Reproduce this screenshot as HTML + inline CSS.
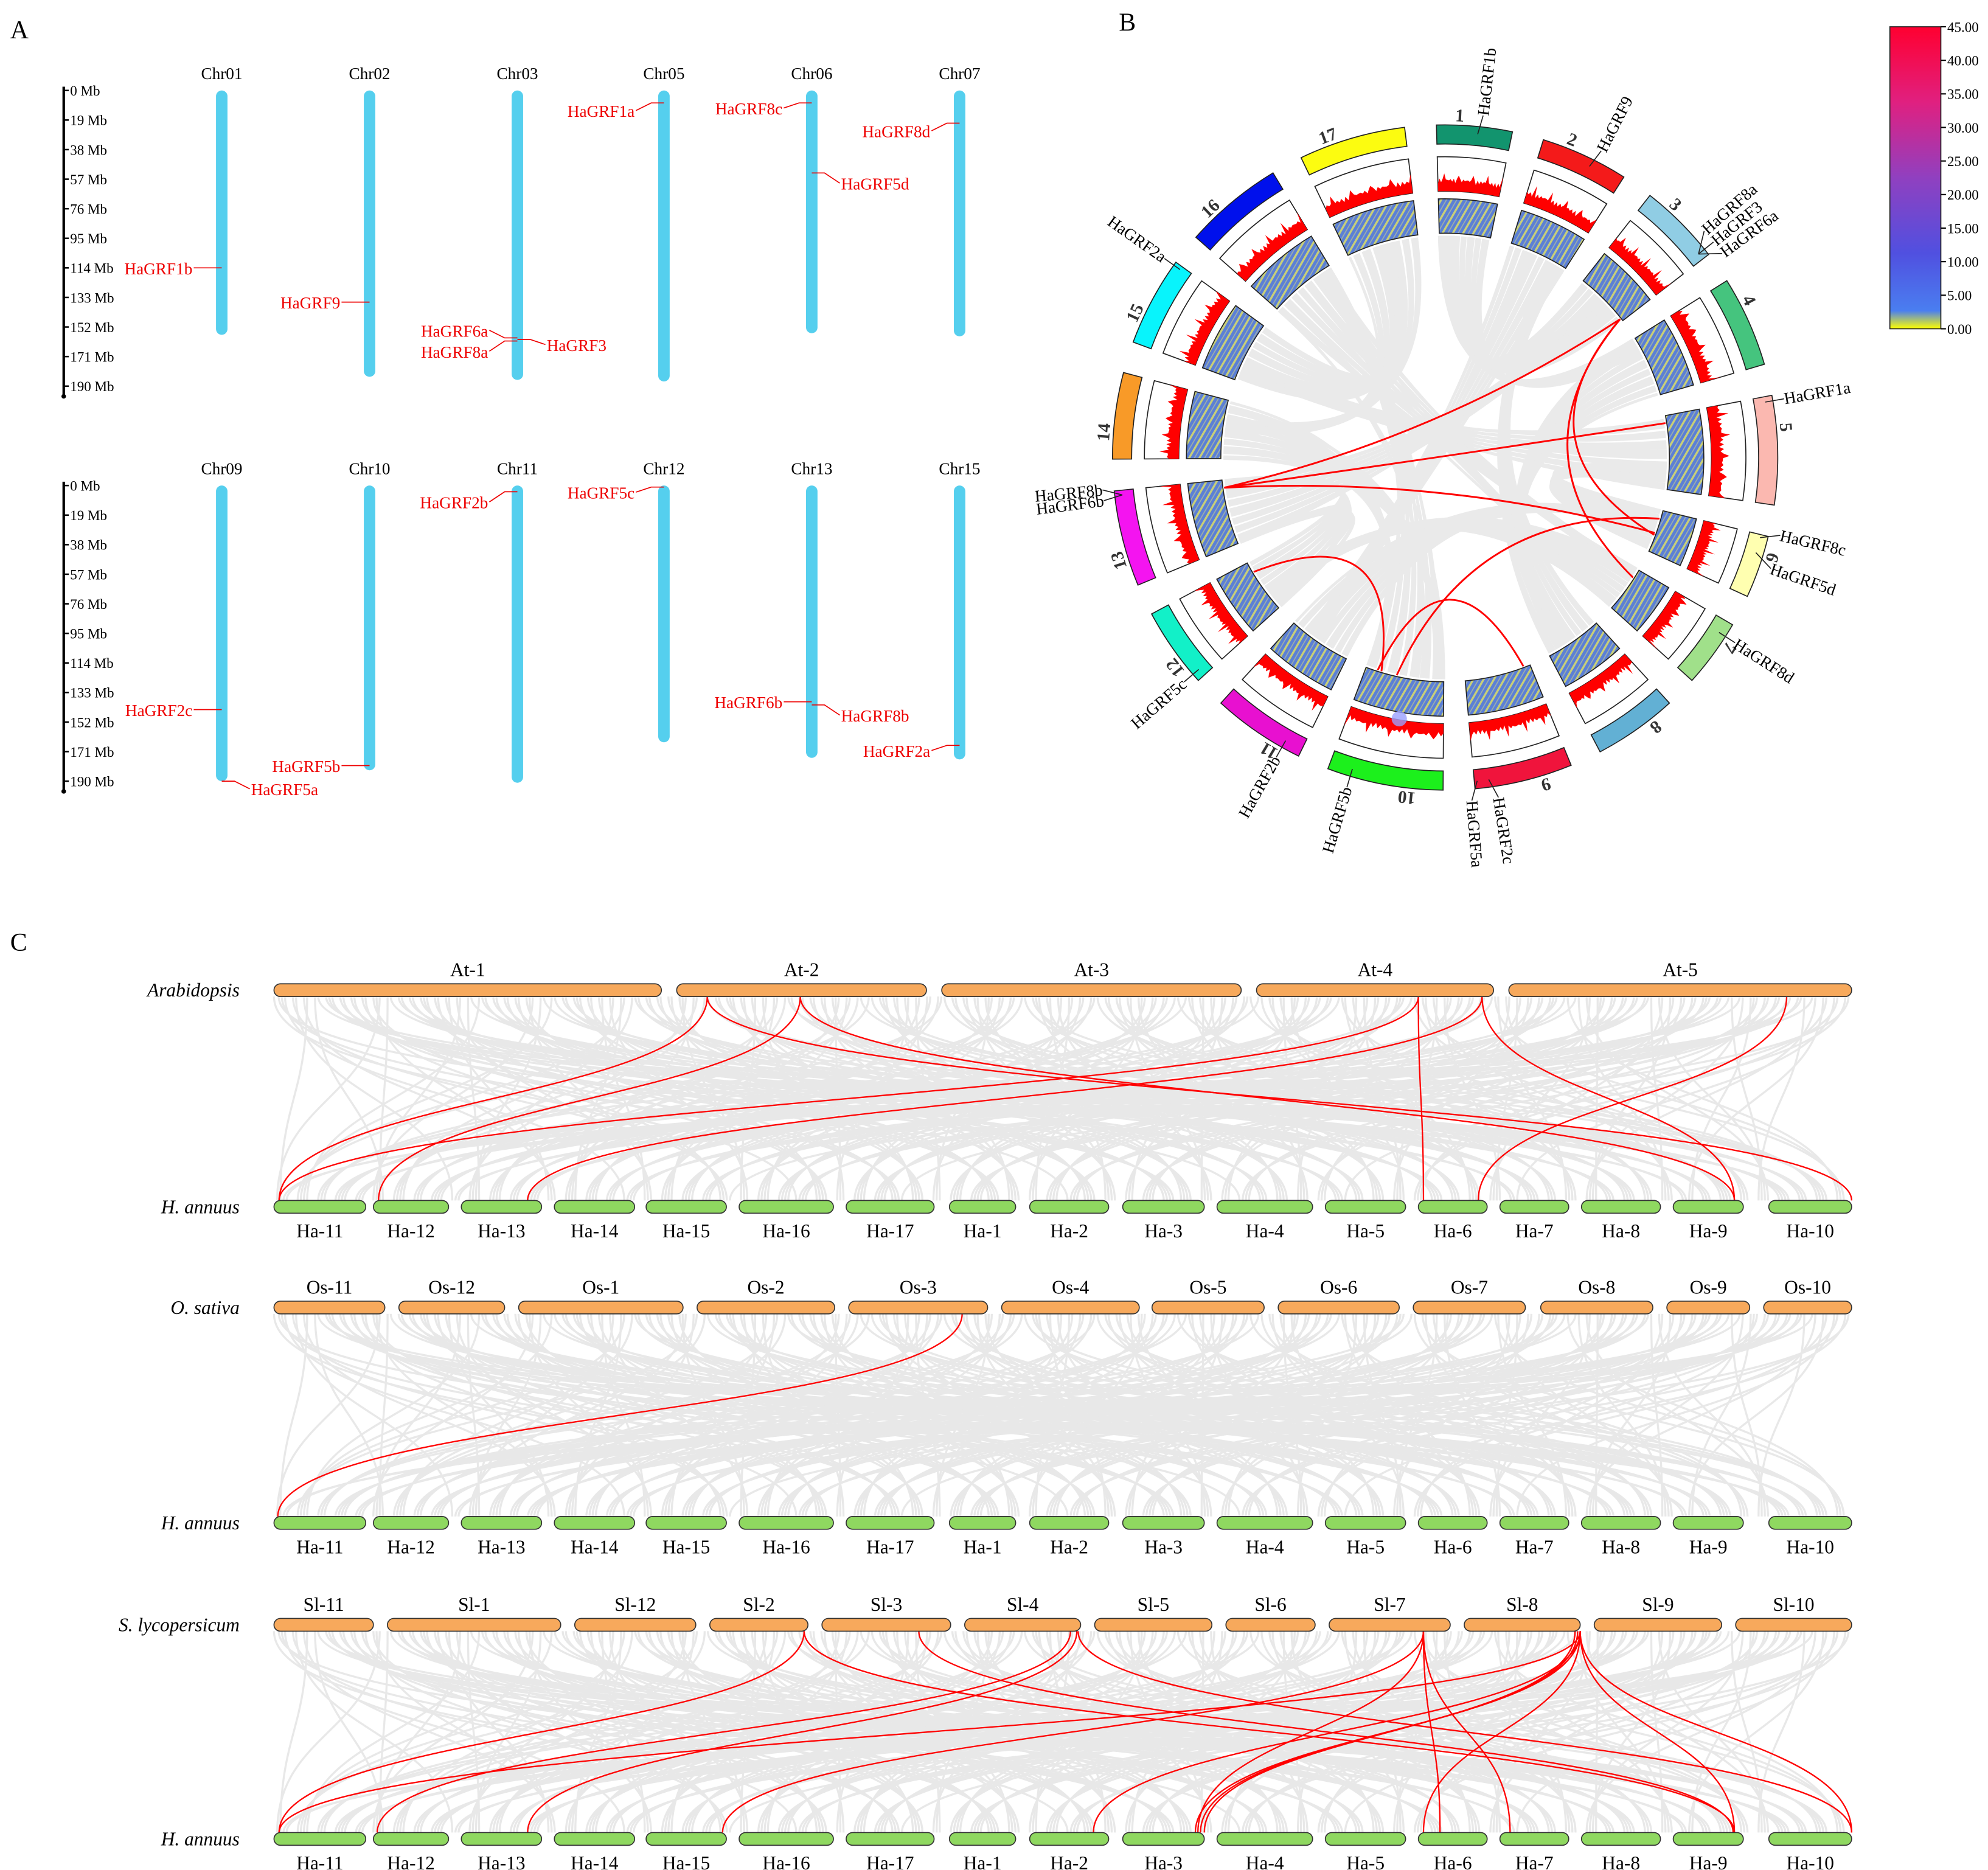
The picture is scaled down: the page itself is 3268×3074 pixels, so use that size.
<!DOCTYPE html>
<html><head><meta charset="utf-8"><style>
html,body{margin:0;padding:0;background:#fff}
svg{display:block}
text{font-family:"Liberation Serif",serif}
</style></head><body>
<svg id="fig" xmlns="http://www.w3.org/2000/svg" width="3268" height="3074" viewBox="0 0 1560 1467.4">
<defs>
<linearGradient id="cbar" x1="0" y1="1" x2="0" y2="0">
<stop offset="0" stop-color="#ffff00"/><stop offset="0.06" stop-color="#4a7ef0"/><stop offset="0.25" stop-color="#5050e0"/><stop offset="0.5" stop-color="#9040c0"/><stop offset="0.75" stop-color="#e02080"/><stop offset="1" stop-color="#ff0030"/>
</linearGradient>
<pattern id="heat" patternUnits="userSpaceOnUse" width="7" height="7" patternTransform="rotate(30)">
<rect width="7" height="7" fill="#5b7fd6"/><rect x="0" width="1.6" height="7" fill="#c8cf78"/><rect x="4" width="0.8" height="7" fill="#9fb0a8"/>
</pattern>
</defs>
<g id="A"></g>
<g id="B"></g>
<g id="C"></g>
</svg>
<script>
const NS="http://www.w3.org/2000/svg";
function mk(parent,tag,attrs,txt){const e=document.createElementNS(NS,tag);for(const k in attrs)e.setAttribute(k,attrs[k]);if(txt!==undefined)e.textContent=txt;parent.appendChild(e);return e;}

/* ---------- PANEL A data ---------- */
const aTicks=[0,19,38,57,76,95,114,133,152,171,190];
const aTopChrs=["Chr01","Chr02","Chr03","Chr05","Chr06","Chr07"];
const aTopLens=[157,184,186,187,156,158];
const aBotChrs=["Chr09","Chr10","Chr11","Chr12","Chr13","Chr15"];
const aBotLens=[190,183,191,165,175,176];
const aTopGenes=[["HaGRF1b",0,114,"L",0],["HaGRF9",1,136,"L",0],["HaGRF6a",2,159,"L",-6],["HaGRF8a",2,161,"L",8],["HaGRF3",2,160,"R",4],["HaGRF1a",3,8,"L",6],["HaGRF8c",4,8,"L",4],["HaGRF5d",4,53,"R",8],["HaGRF8d",5,21,"L",6]];
const aBotGenes=[["HaGRF2c",0,144,"L",0],["HaGRF5a",0,190,"R",6],["HaGRF5b",1,180,"L",0],["HaGRF2b",2,4,"L",8],["HaGRF5c",3,1,"L",4],["HaGRF6b",4,139,"L",0],["HaGRF8b",4,141,"R",8],["HaGRF2a",5,167,"L",4]];

const A=document.getElementById('A');
const chrX=[174,290,406,521,637,753];
const mbPx=23.2/19;
function drawAGroup(y0,chrs,lens,genes,tag){
  const ax=mk(A,'g',{});
  
  
  mk(ax,'line',{x1:50,y1:y0-3,x2:50,y2:y0+190*mbPx+8,stroke:'#000','stroke-width':2});
  mk(ax,'circle',{cx:50,cy:y0+190*mbPx+8,r:1.8,fill:'#000'});
  aTicks.forEach(t=>{const y=y0+t*mbPx;mk(ax,'line',{x1:50,y1:y,x2:54,y2:y,stroke:'#000','stroke-width':1.2});
    mk(ax,'text',{x:55,y:y+4,'font-size':11},t+' Mb');});
  chrs.forEach((c,i)=>{
    const g=mk(A,'g',{});
    
    
    mk(g,'text',{x:chrX[i],y:y0-9,'font-size':13,'text-anchor':'middle'},c);
    mk(g,'rect',{x:chrX[i]-4.5,y:y0,width:9,height:lens[i]*mbPx,rx:4.5,fill:'#55cfee'});
  });
  genes.forEach(([n,ci,mb,side,dy])=>{
    const x=chrX[ci],y=y0+mb*mbPx;
    const g=mk(A,'g',{});
    
    
    if(side==='L'){mk(g,'polyline',{points:`${x},${y} ${x-10},${y} ${x-22},${y+dy}`,fill:'none',stroke:'#e00','stroke-width':0.8});
      mk(g,'text',{x:x-23,y:y+dy+5,'font-size':13,fill:'#e00','text-anchor':'end'},n);}
    else{mk(g,'polyline',{points:`${x},${y} ${x+10},${y} ${x+22},${y+dy}`,fill:'none',stroke:'#e00','stroke-width':0.8});
      mk(g,'text',{x:x+23,y:y+dy+5,'font-size':13,fill:'#e00'},n);}
  });
}
mk(A,'text',{x:8,y:30,'font-size':20},'A');
drawAGroup(71,aTopChrs,aTopLens,aTopGenes,'top');
drawAGroup(381,aBotChrs,aBotLens,aBotGenes,'bottom');

/* ---------- PANEL B data ---------- */
const bChrLens=[154,179,168,185,222,128,139,171,200,237,190,164,196,176,183,203,218];
const bColors=["#12946e","#f41a1a","#90cde4","#45c47e","#fbb8b0","#ffffb0","#a0e08a","#62b0d4","#f0143c","#1cf01c","#e810d0","#12f0c8","#f414f0","#f89a28","#08f4fc","#0010ec","#fcfc10"];
const bLinks=[[13,0.88,3,0.95],[13,0.88,5,0.1],[13,0.88,6,0.55],[3,0.95,6,0.6],[3,0.95,7,0.2],[12,0.8,10,0.8],[10,0.85,9,0.1],[10,0.6,6,0.2]];
const bGenes=[["HaGRF1b",1,0.55,1],["HaGRF9",2,0.6,1],["HaGRF8a",3,0.92,-4],["HaGRF3",3,0.92,0],["HaGRF6a",3,0.92,4],["HaGRF1a",5,0.05,0],["HaGRF8c",6,0.05,-2],["HaGRF5d",6,0.3,3],["HaGRF8d",7,0.2,0],["HaGRF5a",9,0.97,2],["HaGRF2c",9,0.85,-2],["HaGRF5b",10,0.8,0],["HaGRF2b",11,0.2,0],["HaGRF5c",12,0.1,0],["HaGRF8b",13,0.95,2],["HaGRF6b",13,0.95,-1],["HaGRF2a",15,0.96,0]];
const cbTicks=["45.00","40.00","35.00","30.00","25.00","20.00","15.00","10.00","5.00","0.00"];

const B=document.getElementById('B');
const cx=1134,cy=359;
const degPerMb=266.5/bChrLens.reduce((a,b)=>a+b,0),gap=5.5,start0=-1.5;
const starts=[];let acc=start0;bChrLens.forEach(l=>{starts.push(acc);acc+=l*degPerMb+gap;});
function P(a,r){const t=a*Math.PI/180;return [cx+r*Math.sin(t),cy-r*Math.cos(t)];}
function arc(a1,a2,r1,r2){const [x1,y1]=P(a1,r2),[x2,y2]=P(a2,r2),[x3,y3]=P(a2,r1),[x4,y4]=P(a1,r1);const lg=(a2-a1)>180?1:0;
 return `M${x1},${y1}A${r2},${r2} 0 ${lg} 1 ${x2},${y2}L${x3},${y3}A${r1},${r1} 0 ${lg} 0 ${x4},${y4}Z`;}
function ang(ci,f){return starts[ci]+f*bChrLens[ci]*degPerMb;}
mk(B,'text',{x:878,y:24,'font-size':20},'B');
const gl=mk(B,'g',{opacity:0.55});


for(let i=0;i<420;i++){
  const c1=i%17,c2=(i*7+3)%17; if(c1===c2)continue;
  const f1=((i*37)%100)/100,f2=((i*53)%100)/100;
  const a1=ang(c1,f1),a2=ang(c2,f2);
  const [x1,y1]=P(a1,174),[x2,y2]=P(a2,174);
  mk(gl,'path',{d:`M${x1},${y1}Q${cx},${cy} ${x2},${y2}`,fill:'none',stroke:'#d9d9d9','stroke-width':2.2});
}
bChrLens.forEach((l,i)=>{
  const a1=starts[i],a2=a1+l*degPerMb;
  const g=mk(B,'g',{});
  
  
  mk(g,'path',{d:arc(a1,a2,246,261),fill:bColors[i],stroke:'#222','stroke-width':0.8});
  mk(g,'path',{d:arc(a1,a2,209,236),fill:'#fff',stroke:'#222','stroke-width':0.8});
  let pts=[];const n=40;
  for(let k=0;k<=n;k++){const a=a1+(a2-a1)*k/n;const h=6+4*Math.abs(Math.sin(k*1.7+i))+(k%9===4?6:0);pts.push(P(a,209+h));}
  const [bx,by]=P(a2,209),[sx,sy]=P(a1,209);
  mk(g,'path',{d:`M${sx},${sy}L`+pts.map(p=>p.join(',')).join(' L')+` L${bx},${by}A209,209 0 0 0 ${sx},${sy}Z`,fill:'#f00'});
  mk(g,'path',{d:arc(a1,a2,176,203),fill:'url(#heat)',stroke:'#222','stroke-width':0.8});
  const la=a1+0.3*(a2-a1);
  const [tx,ty]=P(la,264);
  mk(g,'text',{x:tx,y:ty,'font-size':14,'font-weight':'bold','text-anchor':'middle',transform:`rotate(${la} ${tx} ${ty})`,fill:'#333'},i+1);
});
bLinks.forEach(([c1,f1,c2,f2],k)=>{
  const [x1,y1]=P(ang(c1-1,f1),175),[x2,y2]=P(ang(c2-1,f2),175);
  const p=mk(B,'path',{d:`M${x1},${y1}Q${cx+( (x1+x2)/2-cx)*0.35},${cy+((y1+y2)/2-cy)*0.35} ${x2},${y2}`,fill:'none',stroke:'#f00','stroke-width':1.4});
  
  
});
mk(B,'circle',{cx:1098,cy:564,r:6,fill:'#9aa0ff',opacity:0.8});
bGenes.forEach(([n,ci,f,off])=>{
  const a=ang(ci-1,f);const [x1,y1]=P(a,255),[x2,y2]=P(a+off*0.6,270);
  const g=mk(B,'g',{});
  
  
  mk(g,'line',{x1,y1,x2,y2,stroke:'#222','stroke-width':0.8});
  const aa=a+off*0.6;let rot=aa-90;let anchor='start';
  if(aa>180){rot=aa+90;anchor='end';}
  mk(g,'text',{x:x2,y:y2,'font-size':13,'text-anchor':anchor,'dominant-baseline':'central',transform:`rotate(${rot} ${x2} ${y2})`},n);
});
const cb=mk(B,'g',{});


mk(cb,'rect',{x:1483,y:21,width:40,height:237,fill:'url(#cbar)',stroke:'#222','stroke-width':0.8});
cbTicks.forEach((t,i)=>{const y=21+i*237/9;mk(cb,'line',{x1:1523,y1:y,x2:1527,y2:y,stroke:'#000'});mk(cb,'text',{x:1528,y:y+4,'font-size':11},t);});

/* ---------- PANEL C data ---------- */
const haNames=["Ha-11","Ha-12","Ha-13","Ha-14","Ha-15","Ha-16","Ha-17","Ha-1","Ha-2","Ha-3","Ha-4","Ha-5","Ha-6","Ha-7","Ha-8","Ha-9","Ha-10"];
const haX=[[215,287],[293,352],[362,425],[435,498],[507,570],[580,654],[664,733],[745,797],[808,870],[881,945],[955,1030],[1040,1103],[1113,1167],[1177,1231],[1241,1303],[1313,1368],[1388,1453]];
const atNames=["At-1","At-2","At-3","At-4","At-5"];
const atX=[[215,519],[531,727],[739,974],[986,1172],[1184,1453]];
const osNames=["Os-11","Os-12","Os-1","Os-2","Os-3","Os-4","Os-5","Os-6","Os-7","Os-8","Os-9","Os-10"];
const osX=[[215,302],[313,396],[407,536],[547,655],[666,775],[786,894],[904,992],[1003,1098],[1109,1197],[1209,1297],[1308,1373],[1384,1453]];
const slNames=["Sl-11","Sl-1","Sl-12","Sl-2","Sl-3","Sl-4","Sl-5","Sl-6","Sl-7","Sl-8","Sl-9","Sl-10"];
const slX=[[215,293],[304,440],[451,546],[557,634],[645,746],[757,848],[859,951],[962,1032],[1043,1138],[1149,1240],[1251,1351],[1362,1453]];
const atLinks=[[555,219],[628,297],[555,1453],[628,1361],[1113,219],[1113,1117],[1163,414],[1163,1361],[1402,1160]];
const osLinks=[[755,218]];
const slLinks=[[631,219],[631,1361],[721,1360],[840,296],[845,414],[846,1453],[1117,567],[1117,1130],[1117,1185],[1117,940],[1240,219],[1240,858],[1240,938],[1238,942],[1236,945],[1240,1117],[1240,1361],[1240,1453]];

const C=document.getElementById('C');
mk(C,'text',{x:8,y:746,'font-size':20},'C');
function drawBlock(topY,botY,topNames,topX,links,species,tag){
  const gg=mk(C,'g',{opacity:0.9});
  
  
  const tw=1453-215;
  for(let i=0;i<300;i++){
    const x1=215+((i*97)%1000)/1000*tw,x2=215+((i*61+331)%1000)/1000*tw;
    const m=(topY+botY)/2;
    mk(gg,'path',{d:`M${x1},${topY+5}C${x1},${m} ${x2},${m} ${x2},${botY-5}`,fill:'none',stroke:'#e6e6e6','stroke-width':1.6});
  }
  const rg=mk(C,'g',{});
  
  
  links.forEach(([x1,x2])=>{const m=(topY+botY)/2;
    mk(rg,'path',{d:`M${x1},${topY+5}C${x1},${m} ${x2},${m} ${x2},${botY-5}`,fill:'none',stroke:'#f00','stroke-width':1.1});});
  topNames.forEach((n,i)=>{const [a,b]=topX[i];
    const g=mk(C,'g',{});
    
    
    mk(g,'rect',{x:a,y:topY-5,width:b-a,height:10,rx:5,fill:'#f7a95c',stroke:'#333','stroke-width':0.8});
    mk(g,'text',{x:(a+b)/2,y:topY-11,'font-size':15,'text-anchor':'middle'},n);});
  haNames.forEach((n,i)=>{const [a,b]=haX[i];
    const g=mk(C,'g',{});
    
    
    mk(g,'rect',{x:a,y:botY-5,width:b-a,height:10,rx:5,fill:'#8fd860',stroke:'#333','stroke-width':0.8});
    mk(g,'text',{x:(a+b)/2,y:botY+24,'font-size':15,'text-anchor':'middle'},n);});
  const s1=mk(C,'text',{x:188,y:topY+5,'font-size':15,'font-style':'italic','text-anchor':'end'},species);
  
  
  const s2=mk(C,'text',{x:188,y:botY+5,'font-size':15,'font-style':'italic','text-anchor':'end'},'H. annuus');
  
  
}
drawBlock(777,947,atNames,atX,atLinks,'Arabidopsis','at');
drawBlock(1026,1195,osNames,osX,osLinks,'O. sativa','os');
drawBlock(1275,1443,slNames,slX,slLinks,'S. lycopersicum','sl');
</script>
</body></html>
